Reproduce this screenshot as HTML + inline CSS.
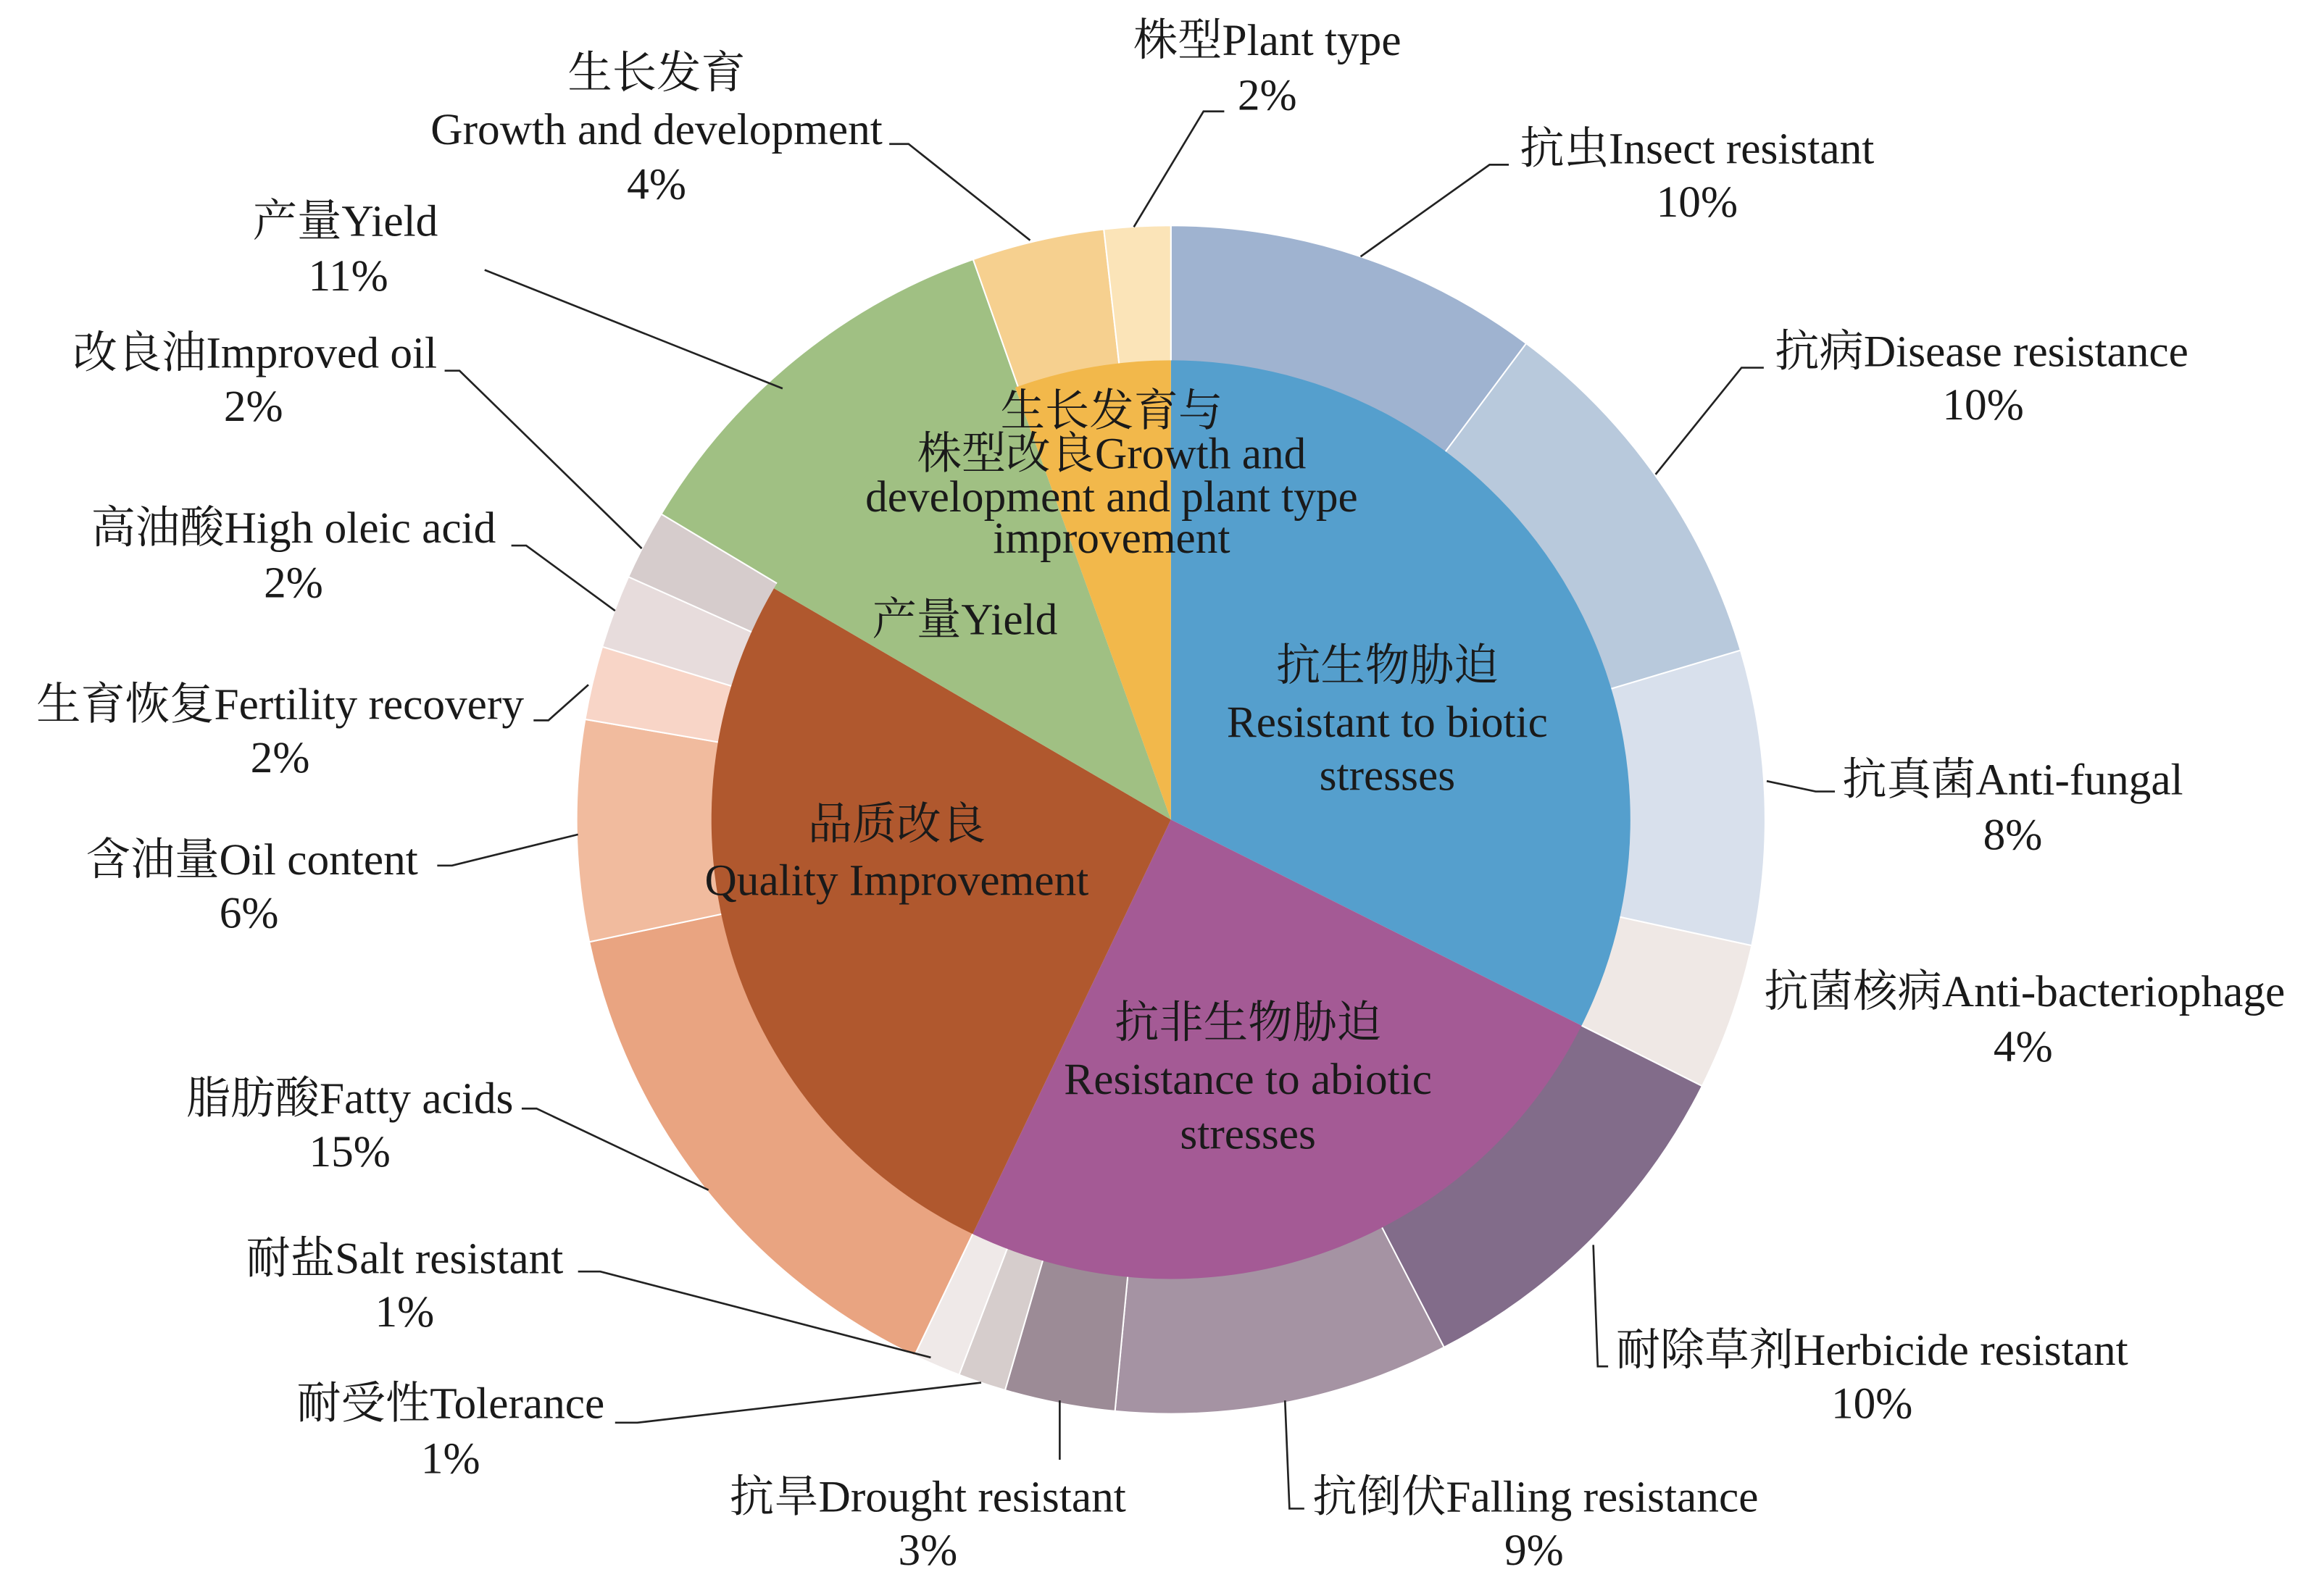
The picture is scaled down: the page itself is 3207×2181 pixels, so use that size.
<!DOCTYPE html>
<html><head><meta charset="utf-8"><style>
html,body{margin:0;padding:0;background:#fff;}
svg{display:block;}
text{font-family:"Liberation Serif","Noto Serif CJK SC",serif;font-size:30px;fill:#1a1a1a;}
</style></head><body>
<svg id="s" width="3207" height="2181" viewBox="0 0 1568 1066" xmlns="http://www.w3.org/2000/svg">
<g id="wedges"></g>
<g stroke="#222" stroke-width="1.3" fill="none">
<polyline points="826,75 812,75 765,153"/>
<polyline points="600,97 613,97 695,162"/>
<polyline points="1018,111 1005,111 918,173"/>
<polyline points="1190,248 1175,248 1117,320"/>
<polyline points="1238,534 1225,534 1192,527"/>
<polyline points="1085,922 1078,922 1075,840"/>
<polyline points="880,1018 870,1018 867,945"/>
<polyline points="715,985 715,945"/>
<polyline points="415,960 430,960 662,933"/>
<polyline points="390,858 405,858 628,916"/>
<polyline points="352,748 362,748 478,803"/>
<polyline points="295,584 305,584 390,563"/>
<polyline points="360,486 370,486 397,462"/>
<polyline points="345,368 355,368 415,412"/>
<polyline points="300,250 310,250 433,370"/>
<polyline points="327,182 528,262"/>
</g>
<g text-anchor="middle">
<text x="855" y="37">株型Plant type</text><text x="855" y="74">2%</text>
<text x="443" y="59">生长发育</text><text x="443" y="97">Growth and development</text><text x="443" y="134">4%</text>
<text x="1145" y="110">抗虫Insect resistant</text><text x="1145" y="146">10%</text>
<text x="1337" y="247">抗病Disease resistance</text><text x="1338" y="283">10%</text>
<text x="1358" y="536">抗真菌Anti-fungal</text><text x="1358" y="573">8%</text>
<text x="1366" y="679">抗菌核病Anti-bacteriophage</text><text x="1365" y="716">4%</text>
<text x="1263" y="921">耐除草剂Herbicide resistant</text><text x="1263" y="957">10%</text>
<text x="1036" y="1020">抗倒伏Falling resistance</text><text x="1035" y="1056">9%</text>
<text x="626" y="1020">抗旱Drought resistant</text><text x="626" y="1056">3%</text>
<text x="304" y="957">耐受性Tolerance</text><text x="304" y="994">1%</text>
<text x="273" y="859">耐盐Salt resistant</text><text x="273" y="895">1%</text>
<text x="236" y="751">脂肪酸Fatty acids</text><text x="236" y="787">15%</text>
<text x="170" y="590">含油量Oil content</text><text x="168" y="626">6%</text>
<text x="189" y="485">生育恢复Fertility recovery</text><text x="189" y="521">2%</text>
<text x="198" y="366">高油酸High oleic acid</text><text x="198" y="403">2%</text>
<text x="172" y="248">改良油Improved oil</text><text x="171" y="284">2%</text>
<text x="233" y="159">产量Yield</text><text x="235" y="196">11%</text>
<text x="750" y="287">生长发育与</text>
<text x="750" y="316">株型改良Growth and</text>
<text x="750" y="345">development and plant type</text>
<text x="750" y="373">improvement</text>
<text x="651" y="428">产量Yield</text>
<text x="936" y="459">抗生物胁迫</text>
<text x="936" y="497">Resistant to biotic</text>
<text x="936" y="533">stresses</text>
<text x="605" y="566">品质改良</text>
<text x="605" y="604">Quality Improvement</text>
<text x="842" y="700">抗非生物胁迫</text>
<text x="842" y="738">Resistance to abiotic</text>
<text x="842" y="775">stresses</text>
</g>
</svg>
<script>
(function(){
var cx=790,cy=553,R=401,r=310;
var g=document.getElementById('wedges');
function pt(rad,f){var a=f*2*Math.PI;return [cx+rad*Math.sin(a),cy-rad*Math.cos(a)];}
function ring(f0,f1,ro,ri,col){
 var a=pt(ro,f0),b=pt(ro,f1),c=pt(ri,f1),d=pt(ri,f0);var l=(f1-f0)>0.5?1:0;
 var p='M'+a+' A'+ro+','+ro+' 0 '+l+' 1 '+b+' L'+c+' A'+ri+','+ri+' 0 '+l+' 0 '+d+'Z';
 var e=document.createElementNS('http://www.w3.org/2000/svg','path');
 e.setAttribute('d',p);e.setAttribute('fill',col);e.setAttribute('stroke','#fff');e.setAttribute('stroke-width','1');g.appendChild(e);}
function pie(f0,f1,ro,col){
 var a=pt(ro,f0),b=pt(ro,f1);var l=(f1-f0)>0.5?1:0;
 var p='M'+cx+','+cy+' L'+a+' A'+ro+','+ro+' 0 '+l+' 1 '+b+'Z';
 var e=document.createElementNS('http://www.w3.org/2000/svg','path');
 e.setAttribute('d',p);e.setAttribute('fill',col);g.appendChild(e);}
var outer=[[10.2,'#9fb3d0'],[10.2,'#b8c9dc'],[8,'#d8e0ec'],[4,'#efe8e5'],[10.0,'#826c8a'],[9.1,'#a593a3'],[3,'#9c8b96'],[1.3,'#d6cdcc'],[1.3,'#efe9e8'],[14.6,'#e9a481'],[6,'#f1bb9e'],[2,'#f8d5c7'],[2,'#e7dcdc'],[1.9,'#d6cccc'],[11,'#a0c083'],[3.6,'#f6d08f'],[1.8,'#fbe4b8']];
var s=0;outer.forEach(function(o){ring(s/100,(s+o[0])/100,R,r-1,o[1]);s+=o[0];});
var inner=[[32.4,'#559fcd'],[24.7,'#a45a95'],[26.3,'#b0582e'],[11.1,'#a0c083'],[5.5,'#f2b84b']];
s=0;inner.forEach(function(o){pie(s/100,(s+o[0])/100,r,o[1]);s+=o[0];});
})();
</script>
</body></html>
